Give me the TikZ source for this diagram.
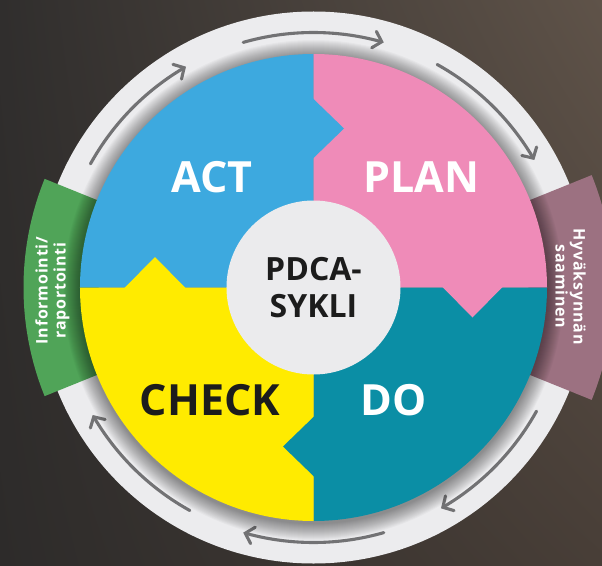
\documentclass[tikz,border=0pt]{standalone}
\usepackage{fontspec}
\setmainfont{Open Sans}
\usetikzlibrary{arrows.meta,bending,shadings}
\definecolor{bgUL}{HTML}{302E2D}
\definecolor{bgLL}{HTML}{2D2B2A}
\definecolor{bgUR}{HTML}{5F5349}
\definecolor{bgLR}{HTML}{483E37}
\definecolor{ringgray}{HTML}{ECECEE}
\definecolor{centergray}{HTML}{EBEBED}
\definecolor{arrowgray}{HTML}{727274}
\definecolor{actblue}{HTML}{3DA9DF}
\definecolor{planpink}{HTML}{EF8BB8}
\definecolor{doteal}{HTML}{0B8EA5}
\definecolor{checkyellow}{HTML}{FFEB00}
\definecolor{tabgreen}{HTML}{50A458}
\definecolor{tabmauve}{HTML}{9C7181}
\definecolor{darktext}{HTML}{1C1C1C}
\tikzset{
  cyc/.style={draw=arrowgray, line width=3.1pt, line cap=round,
    -{Straight Barb[length=8pt,width=17pt,line cap=round]}},
  biglabel/.style={font=\fontsize{43}{43}\selectfont\bfseries, inner sep=0pt},
  tablabel/.style={font=\fontsize{16}{18}\selectfont\bfseries\addfontfeature{LetterSpace=5}, text=white, align=center, inner sep=0pt},
}
\begin{document}
\begin{tikzpicture}[x=1pt,y=1pt]
\useasboundingbox (-313.5,-277.5) rectangle (288.5,287.5);
\clip (-313.5,-277.5) rectangle (288.5,287.5);
% background
\shade[upper left=bgUL, lower left=bgLL, upper right=bgUR, lower right=bgLR]
  (-313.5,-277.5) rectangle (288.5,287.5);
% outer ring
\fill[ringgray] (0,0) circle[radius=276];
% side tabs
\fill[tabgreen] (158:215) -- (158:290) arc[start angle=158,end angle=202,radius=290]
  -- (202:215) arc[start angle=202,end angle=158,radius=215] -- cycle;
\fill[tabmauve] (-22:215) -- (-22:300) arc[start angle=-22,end angle=22,radius=300]
  -- (22:215) arc[start angle=22,end angle=-22,radius=215] -- cycle;
% cycle arrows on the ring
\draw[cyc] (106:255) arc[start angle=106,end angle=74,radius=255];
\draw[cyc] (61:255) arc[start angle=61,end angle=30,radius=255];
\draw[cyc] (-29:255) arc[start angle=-29,end angle=-60,radius=255];
\draw[cyc] (-74:255) arc[start angle=-74,end angle=-106,radius=255];
\draw[cyc] (-119:255) arc[start angle=-119,end angle=-150,radius=255];
\draw[cyc] (151:255) arc[start angle=151,end angle=120,radius=255];
% drop shadow of the disc
\foreach \r in {234,235,...,250}{
  \fill[black,opacity=0.028] (0,-2.5) circle[radius=\r];
}
% quadrants
\fill[actblue] (0,0) -- (0,233.5) arc[start angle=90,end angle=180,radius=233.5] -- cycle;
\fill[planpink] (0,0) -- (233.5,0) arc[start angle=0,end angle=90,radius=233.5] -- cycle;
\fill[doteal] (0,0) -- (0,-233.5) arc[start angle=-90,end angle=0,radius=233.5] -- cycle;
\fill[checkyellow] (0,0) -- (-233.5,0) arc[start angle=180,end angle=270,radius=233.5] -- cycle;
% puzzle tabs
\fill[actblue] (-0.5,189) -- (30.5,159) -- (-0.5,129) -- cycle;
\fill[planpink] (129,0.5) -- (159,-30) -- (189,0.5) -- cycle;
\fill[doteal] (0.5,-129) -- (-30.5,-159) -- (0.5,-189) -- cycle;
\fill[checkyellow] (-189,-0.5) -- (-158.5,30.5) -- (-128,-0.5) -- cycle;
% centre
\fill[centergray] (0,0) circle[radius=87];
% labels
\node[biglabel, text=white] (act) at (-101.5,110.5) {ACT};
\node[biglabel, text=white] (plan) at (107.5,110.5) {PLAN};
\node[biglabel, text=darktext] (check) at (-103.5,-112.5) {CHECK};
\node[biglabel, text=white] (do) at (80.5,-112.5) {DO};
\node[font=\fontsize{32}{37.5}\selectfont\bfseries, text=darktext, align=center, inner sep=0pt] (pdca) at (0,0) {PDCA-\\SYKLI};
\node[tablabel, rotate=90] (info) at (-261,-3) {Informointi/\\raportointi};
\node[tablabel, rotate=-90] (hyv) at (257,1) {Hyväksynnän\\saaminen};
\end{tikzpicture}
\end{document}
